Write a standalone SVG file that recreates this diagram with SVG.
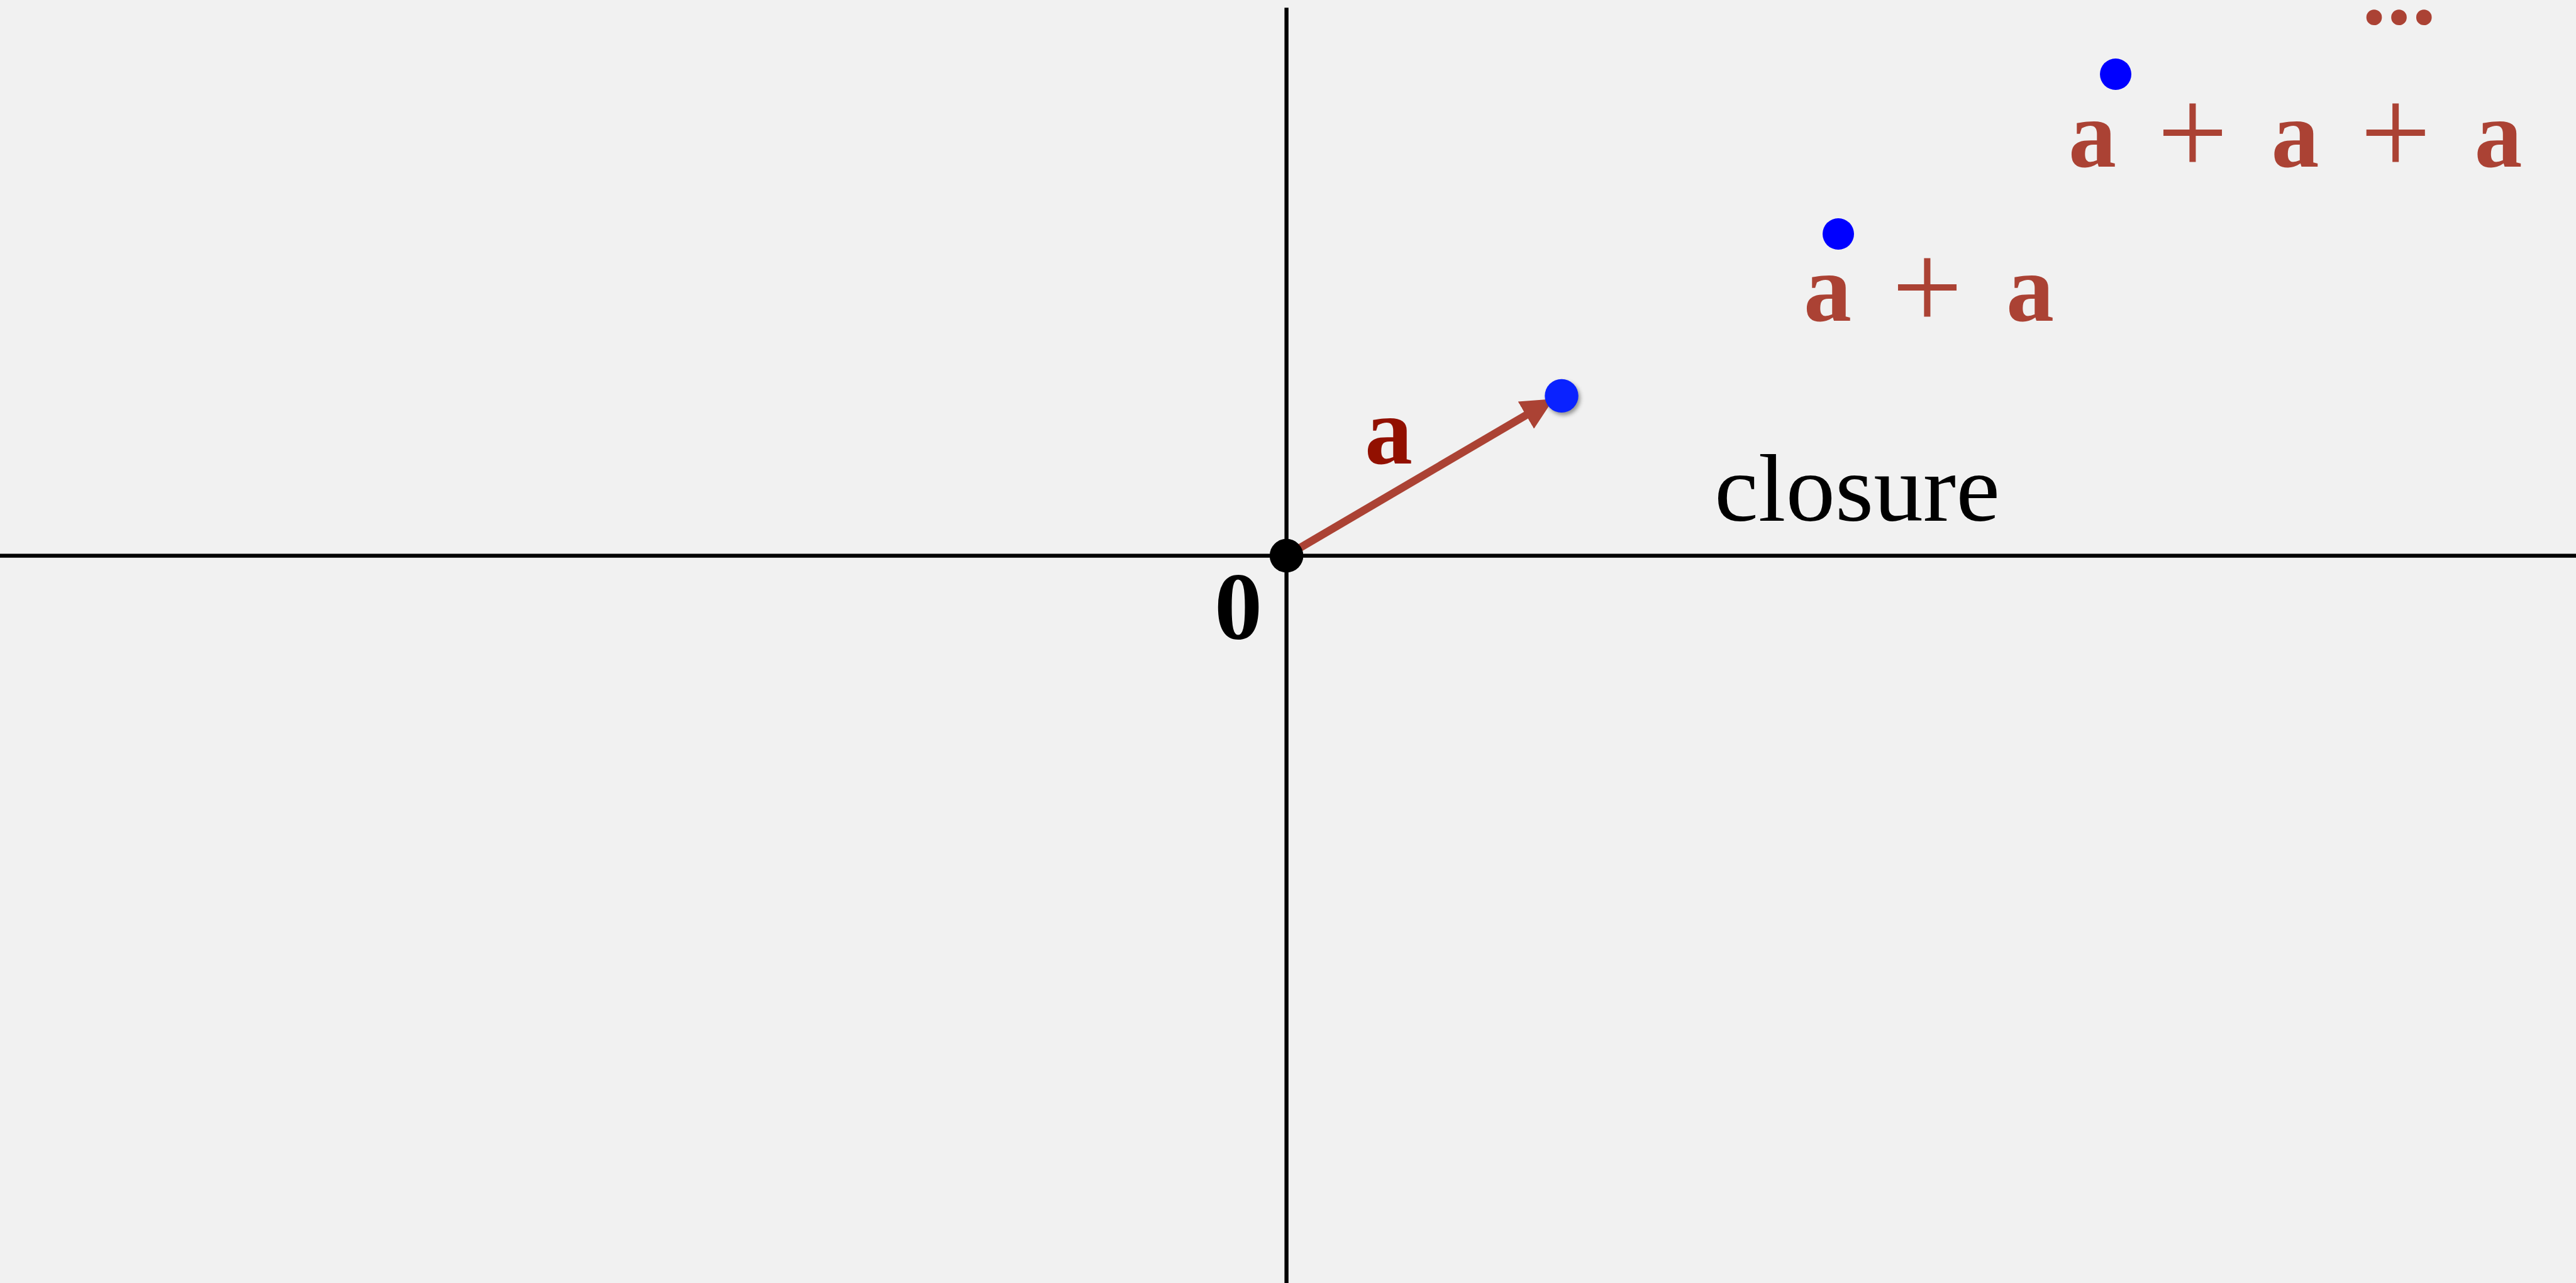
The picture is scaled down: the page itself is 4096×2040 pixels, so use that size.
<svg xmlns="http://www.w3.org/2000/svg" width="4096" height="2040" viewBox="0 0 4096 2040">
<style>
.axis{stroke:#000;stroke-width:6.4;fill:none}
.vec{stroke:#ab4234;stroke-width:12.5;fill:none}
.pt{fill:#0000ff}
.lbl{font-family:"Liberation Serif","Times New Roman",serif;font-size:152px}
.b{font-weight:bold}
.red{fill:#ab4234}
</style>
<defs>
<marker id="arrowhead" viewBox="0 0 51 50" refX="11" refY="25" markerWidth="51" markerHeight="50" markerUnits="userSpaceOnUse" orient="auto">
<path d="M0,0 L51,25 L0,50 z" fill="#ab4234"/>
</marker>
<filter id="shadow" x="-50%" y="-50%" width="200%" height="200%">
<feGaussianBlur stdDeviation="3"/>
</filter>
</defs>
<rect x="0" y="0" width="4096" height="2040" fill="#f1f1f1"/>
<g id="axes">
<line class="axis" x1="0" y1="883.6" x2="4096" y2="883.6"/>
<line class="axis" x1="2045.6" y1="12.3" x2="2045.6" y2="2040"/>
</g>
<g id="connectors">
<line class="vec" x1="2045.6" y1="883.6" x2="2435.9" y2="654.6" marker-end="url(#arrowhead)"/>
</g>
<g id="origin">
<circle cx="2045.6" cy="883.6" r="26.8" fill="#000"/>
<text class="lbl b" x="1931" y="1016" fill="#000">0</text>
</g>
<g id="point-a">
<circle cx="2486" cy="633.5" r="26.7" fill="#555" opacity="0.6" filter="url(#shadow)"/>
<circle cx="2483" cy="629.4" r="26.7" fill="#0a22ff"/>
</g>
<g id="label-a">
<text class="lbl b" x="2208" y="737" text-anchor="middle" fill="#921000">a</text>
</g>
<g id="label-closure">
<text class="lbl" x="2726" y="828" textLength="454" lengthAdjust="spacingAndGlyphs" fill="#000">closure</text>
</g>
<g id="point-2a">
<circle class="pt" cx="2923" cy="372" r="25"/>
<text class="lbl red" text-anchor="middle"><tspan class="b" x="2906" y="510">a</tspan><tspan x="3064.4" y="522.6" style="font-size:200px">+</tspan><tspan class="b" x="3228" y="510">a</tspan></text>
</g>
<g id="point-3a">
<circle class="pt" cx="3364" cy="118" r="25"/>
<text class="lbl red" text-anchor="middle"><tspan class="b" x="3327" y="265">a</tspan><tspan x="3486.4" y="277" style="font-size:200px">+</tspan><tspan class="b" x="3649.6" y="265">a</tspan><tspan x="3809.2" y="277" style="font-size:200px">+</tspan><tspan class="b" x="3972.4" y="265">a</tspan></text>
</g>
<g id="ellipsis">
<text class="lbl b red" x="3755.9" y="37.6" letter-spacing="1.7">...</text>
</g>
</svg>
